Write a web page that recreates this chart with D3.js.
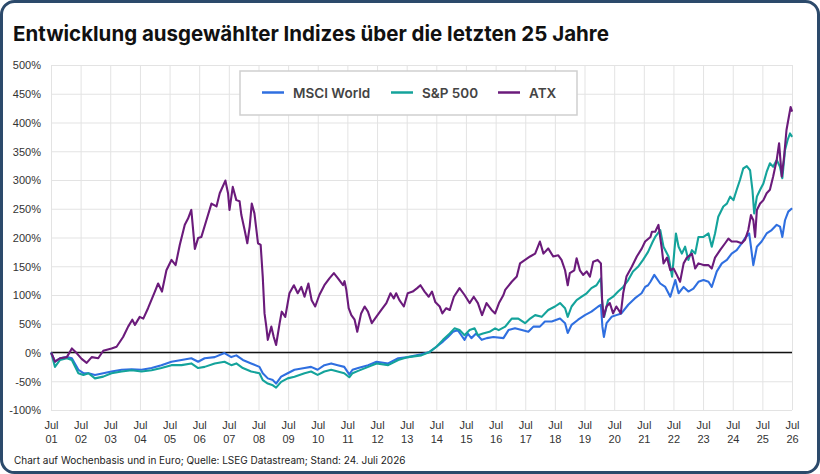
<!DOCTYPE html>
<html>
<head>
<meta charset="utf-8">
<script src="https://cdn.jsdelivr.net/npm/d3@7"></script>
<style>
  body { margin: 0; background: #fff; }
  svg { display: block; font-family: Inter, "Noto Sans", sans-serif; }
  .grid line { stroke: #e3e3e3; stroke-width: 1; }
  .grid path { display: none; }
  .axis path, .axis line { display: none; }
  .axis text { fill: #333; font-size: 11px; }
  .line { fill: none; stroke-width: 2.1; stroke-linejoin: round; }
</style>
</head>
<body>
<svg width="820" height="474"></svg>
<script>
// Werte in % seit Jul 2001, Zeit als Dezimaljahr
const msci = [
  [2001.50, 0], [2001.63, -16], [2001.80, -10], [2002.03, -8], [2002.20, -10], [2002.42, -30],
  [2002.59, -36], [2002.76, -36], [2002.98, -39], [2003.26, -36], [2003.54, -33], [2003.88, -30],
  [2004.22, -29], [2004.55, -30], [2004.89, -27], [2005.22, -22], [2005.56, -16], [2005.90, -13],
  [2006.23, -10], [2006.46, -16], [2006.68, -10], [2007.02, -8], [2007.35, -1], [2007.58, -8],
  [2007.75, -5], [2007.97, -13], [2008.25, -19], [2008.53, -25], [2008.64, -36], [2008.81, -45],
  [2008.98, -48], [2009.09, -54], [2009.26, -42], [2009.48, -36], [2009.71, -30], [2010.05, -27],
  [2010.27, -25], [2010.49, -30], [2010.72, -22], [2010.95, -19], [2011.17, -22], [2011.39, -25],
  [2011.56, -38], [2011.67, -30], [2011.86, -27], [2012.20, -22], [2012.48, -16], [2012.87, -19],
  [2013.21, -10], [2013.54, -8], [2013.99, -3], [2014.27, 1], [2014.50, 10], [2014.72, 19],
  [2014.89, 27], [2015.06, 36], [2015.22, 39], [2015.34, 30], [2015.45, 22], [2015.56, 33],
  [2015.68, 25], [2015.84, 33], [2016.03, 22], [2016.20, 25], [2016.42, 27], [2016.76, 25],
  [2016.93, 39], [2017.15, 42], [2017.38, 39], [2017.60, 36], [2017.77, 45], [2017.99, 45],
  [2018.16, 54], [2018.39, 54], [2018.67, 59], [2018.84, 51], [2018.93, 34], [2019.06, 48],
  [2019.28, 57], [2019.51, 65], [2019.73, 71], [2019.96, 80], [2020.05, 83], [2020.10, 45],
  [2020.15, 27], [2020.24, 51], [2020.41, 62], [2020.57, 65], [2020.74, 68], [2020.97, 83],
  [2021.19, 94], [2021.42, 103], [2021.54, 114], [2021.64, 117], [2021.72, 123], [2021.85, 135],
  [2022.05, 120], [2022.22, 114], [2022.39, 97], [2022.56, 126], [2022.67, 103], [2022.84, 114],
  [2023.00, 106], [2023.17, 111], [2023.34, 123], [2023.51, 126], [2023.68, 123], [2023.79, 114],
  [2023.96, 141], [2024.13, 155], [2024.30, 161], [2024.46, 172], [2024.63, 178], [2024.80, 190],
  [2024.91, 199], [2025.05, 207], [2025.11, 184], [2025.19, 152], [2025.31, 184], [2025.47, 193],
  [2025.64, 207], [2025.81, 213], [2025.98, 222], [2026.09, 219], [2026.17, 201], [2026.26, 230],
  [2026.37, 245], [2026.50, 251]
];

const sp500 = [
  [2001.50, 0], [2001.63, -25], [2001.80, -13], [2002.03, -10], [2002.20, -13], [2002.42, -36],
  [2002.59, -39], [2002.76, -36], [2002.98, -45], [2003.26, -42], [2003.54, -36], [2003.88, -33],
  [2004.22, -31], [2004.55, -33], [2004.89, -31], [2005.22, -27], [2005.56, -22], [2005.90, -22],
  [2006.23, -19], [2006.46, -27], [2006.68, -25], [2007.02, -19], [2007.35, -16], [2007.58, -22],
  [2007.75, -19], [2007.97, -27], [2008.25, -33], [2008.53, -36], [2008.64, -48], [2008.81, -54],
  [2008.98, -57], [2009.09, -61], [2009.26, -51], [2009.48, -45], [2009.71, -42], [2010.05, -36],
  [2010.27, -33], [2010.49, -39], [2010.72, -33], [2010.95, -30], [2011.17, -33], [2011.39, -36],
  [2011.56, -43], [2011.67, -36], [2011.86, -32], [2012.20, -25], [2012.48, -19], [2012.87, -22],
  [2013.21, -13], [2013.54, -8], [2013.99, -5], [2014.27, 1], [2014.50, 10], [2014.72, 22],
  [2014.95, 33], [2015.11, 42], [2015.28, 39], [2015.45, 30], [2015.62, 39], [2015.79, 42],
  [2015.90, 30], [2016.07, 33], [2016.29, 36], [2016.48, 42], [2016.60, 39], [2016.82, 45],
  [2017.04, 59], [2017.26, 59], [2017.49, 51], [2017.66, 59], [2017.83, 65], [2018.05, 62],
  [2018.27, 74], [2018.50, 80], [2018.67, 86], [2018.84, 77], [2018.93, 62], [2019.06, 80],
  [2019.23, 91], [2019.40, 97], [2019.57, 103], [2019.73, 112], [2019.90, 117], [2020.05, 129],
  [2020.10, 80], [2020.16, 62], [2020.29, 91], [2020.46, 97], [2020.63, 106], [2020.80, 114],
  [2020.97, 126], [2021.13, 141], [2021.30, 149], [2021.47, 161], [2021.64, 175], [2021.80, 193],
  [2021.88, 201], [2022.05, 213], [2022.16, 184], [2022.33, 167], [2022.45, 132], [2022.58, 207],
  [2022.67, 184], [2022.78, 172], [2022.89, 184], [2023.00, 161], [2023.12, 178], [2023.23, 172],
  [2023.34, 201], [2023.51, 201], [2023.68, 207], [2023.79, 184], [2023.90, 207], [2024.01, 236],
  [2024.18, 254], [2024.30, 259], [2024.41, 271], [2024.52, 265], [2024.63, 283], [2024.74, 300],
  [2024.85, 320], [2024.97, 324], [2025.08, 317], [2025.16, 283], [2025.22, 242], [2025.31, 271],
  [2025.42, 283], [2025.53, 294], [2025.64, 314], [2025.75, 329], [2025.86, 323], [2025.98, 335],
  [2026.09, 323], [2026.17, 303], [2026.26, 352], [2026.35, 370], [2026.43, 381], [2026.50, 375]
];

const atx = [
  [2001.50, 0], [2001.63, -16], [2001.80, -10], [2002.03, -8], [2002.20, 7], [2002.36, -1],
  [2002.53, -11], [2002.70, -18], [2002.87, -8], [2003.09, -10], [2003.26, 3], [2003.54, 7],
  [2003.71, 10], [2003.93, 27], [2004.10, 45], [2004.24, 57], [2004.33, 48], [2004.49, 62],
  [2004.61, 59], [2004.77, 77], [2005.00, 106], [2005.11, 120], [2005.24, 106], [2005.39, 143],
  [2005.56, 161], [2005.70, 152], [2005.84, 187], [2006.01, 222], [2006.12, 233], [2006.23, 248],
  [2006.35, 180], [2006.46, 199], [2006.57, 201], [2006.74, 230], [2006.91, 259], [2007.08, 254],
  [2007.19, 277], [2007.38, 299], [2007.47, 277], [2007.52, 248], [2007.63, 288], [2007.75, 265],
  [2007.86, 263], [2007.92, 239], [2008.03, 213], [2008.12, 190], [2008.20, 219], [2008.27, 259],
  [2008.36, 242], [2008.48, 190], [2008.57, 187], [2008.64, 132], [2008.70, 68], [2008.76, 45],
  [2008.81, 22], [2008.93, 45], [2009.01, 27], [2009.09, 13], [2009.21, 51], [2009.28, 71],
  [2009.40, 62], [2009.54, 103], [2009.69, 117], [2009.82, 103], [2009.94, 114], [2010.05, 97],
  [2010.18, 120], [2010.29, 91], [2010.41, 80], [2010.55, 100], [2010.72, 117], [2010.89, 129],
  [2011.04, 138], [2011.18, 129], [2011.35, 117], [2011.40, 124], [2011.46, 109], [2011.54, 77],
  [2011.63, 65], [2011.74, 57], [2011.83, 36], [2011.96, 68], [2012.08, 80], [2012.19, 71],
  [2012.32, 51], [2012.47, 62], [2012.64, 74], [2012.81, 86], [2012.95, 103], [2013.06, 94],
  [2013.14, 103], [2013.25, 91], [2013.40, 80], [2013.53, 103], [2013.70, 106], [2013.85, 112],
  [2013.96, 117], [2014.10, 106], [2014.24, 97], [2014.35, 106], [2014.46, 88], [2014.61, 80],
  [2014.70, 68], [2014.83, 77], [2014.95, 74], [2015.09, 97], [2015.28, 112], [2015.45, 100],
  [2015.62, 86], [2015.76, 97], [2015.90, 86], [2016.04, 65], [2016.19, 86], [2016.36, 74],
  [2016.48, 68], [2016.61, 86], [2016.76, 100], [2016.82, 109], [2017.04, 123], [2017.21, 132],
  [2017.32, 155], [2017.49, 161], [2017.66, 167], [2017.83, 172], [2017.99, 193], [2018.11, 172],
  [2018.27, 181], [2018.44, 167], [2018.61, 169], [2018.72, 161], [2018.84, 143], [2018.93, 117],
  [2019.00, 138], [2019.15, 143], [2019.23, 164], [2019.34, 143], [2019.45, 135], [2019.57, 141],
  [2019.68, 132], [2019.79, 158], [2019.94, 161], [2020.05, 155], [2020.09, 91], [2020.14, 62],
  [2020.24, 80], [2020.35, 86], [2020.46, 68], [2020.57, 80], [2020.72, 68], [2020.80, 103],
  [2020.91, 132], [2021.09, 149], [2021.26, 167], [2021.43, 181], [2021.54, 193], [2021.72, 201],
  [2021.77, 210], [2021.88, 210], [2021.99, 222], [2022.11, 178], [2022.16, 155], [2022.28, 165],
  [2022.39, 143], [2022.50, 146], [2022.61, 135], [2022.72, 123], [2022.84, 155], [2022.95, 165],
  [2023.12, 172], [2023.23, 146], [2023.34, 155], [2023.51, 152], [2023.68, 152], [2023.79, 146],
  [2023.90, 165], [2024.07, 178], [2024.24, 190], [2024.35, 198], [2024.46, 193], [2024.63, 193],
  [2024.80, 190], [2024.91, 196], [2025.02, 213], [2025.11, 239], [2025.19, 230], [2025.25, 201],
  [2025.31, 248], [2025.42, 259], [2025.53, 265], [2025.64, 277], [2025.75, 283], [2025.86, 306],
  [2025.98, 335], [2026.06, 364], [2026.15, 306], [2026.23, 341], [2026.31, 387], [2026.39, 410],
  [2026.45, 427], [2026.50, 419]
];

const seriesNames = ["MSCI World", "S&P 500", "ATX"];
const seriesColors = ["#2f6fe0", "#14a39b", "#6b1b7b"];
const tickYears = d3.range(2001, 2027);
const yTicks = d3.range(-100, 501, 50);

const toDate = t => {
  const y = Math.floor(t);
  const s = new Date(y, 0, 1), e = new Date(y + 1, 0, 1);
  return new Date(+s + (t - y) * (e - s));
};

const svg = d3.select("svg");
const W = 820, H = 474;

// Rahmen
svg.append("rect")
  .attr("x", 1.5).attr("y", 1.5)
  .attr("width", W - 3).attr("height", H - 3)
  .attr("rx", 13)
  .attr("fill", "#fff")
  .attr("stroke", "#2c4a6b")
  .attr("stroke-width", 3);

svg.append("text")
  .attr("x", 13).attr("y", 41)
  .attr("font-size", "20.5px")
  .attr("font-weight", 700)
  .attr("fill", "#111")
  .text("Entwicklung ausgewählter Indizes über die letzten 25 Jahre");

const margin = { left: 51, right: 28, top: 65, bottom: 64 };
const x = d3.scaleTime()
  .domain([new Date(2001, 6, 1), new Date(2026, 6, 1)])
  .range([margin.left, W - margin.right]);
const y = d3.scaleLinear()
  .domain([-100, 500])
  .range([H - margin.bottom, margin.top]);

// Gitter
svg.append("g")
  .attr("class", "grid")
  .attr("transform", `translate(0,${margin.top})`)
  .call(d3.axisBottom(x)
    .tickValues(tickYears.map(yr => new Date(yr, 6, 1)))
    .tickSize(y(-100) - margin.top)
    .tickFormat(""));

svg.append("g")
  .attr("class", "grid")
  .attr("transform", `translate(${margin.left},0)`)
  .call(d3.axisRight(y)
    .tickValues(yTicks)
    .tickSize(x.range()[1] - margin.left)
    .tickFormat(""));

// Achsen
svg.append("g")
  .attr("class", "axis")
  .attr("transform", `translate(${margin.left - 10},0)`)
  .call(d3.axisLeft(y).tickValues(yTicks).tickSize(0).tickFormat(d => d + "%"))
  .selectAll("text").attr("x", 0).attr("dy", "0.35em");

const xAxis = svg.append("g")
  .attr("class", "axis")
  .attr("transform", `translate(0,${y(-100) + 8})`)
  .call(d3.axisBottom(x)
    .tickValues(tickYears.map(yr => new Date(yr, 6, 1)))
    .tickSize(0)
    .tickFormat(""));

xAxis.selectAll(".tick text").each(function(d) {
  const t = d3.select(this);
  t.append("tspan").attr("x", 0).attr("dy", "0.71em").text("Jul");
  t.append("tspan").attr("x", 0).attr("dy", "1.3em").text(d3.timeFormat("%y")(d));
});

// Nulllinie
svg.append("line")
  .attr("x1", x.range()[0]).attr("x2", x.range()[1])
  .attr("y1", y(0)).attr("y2", y(0))
  .attr("stroke", "#111").attr("stroke-width", 1.5);

const line = d3.line()
  .x(d => x(toDate(d[0])))
  .y(d => y(d[1]));

[msci, sp500, atx].forEach((s, i) => {
  svg.append("path")
    .datum(s)
    .attr("class", "line")
    .attr("stroke", seriesColors[i])
    .attr("d", line);
});

// Legende
const legend = svg.append("g").attr("transform", "translate(240,71)");
legend.append("rect")
  .attr("width", 337).attr("height", 44)
  .attr("fill", "#fff")
  .attr("stroke", "#cfcfcf")
  .attr("stroke-width", 1.5);

const legendX = [22, 151, 258];
seriesNames.forEach((name, i) => {
  legend.append("line")
    .attr("x1", legendX[i]).attr("x2", legendX[i] + 22)
    .attr("y1", 21.5).attr("y2", 21.5)
    .attr("stroke", seriesColors[i]).attr("stroke-width", 2.5);
  legend.append("text")
    .attr("x", legendX[i] + 31).attr("y", 26.5)
    .attr("font-size", "13.5px")
    .attr("font-weight", 600)
    .attr("fill", "#444")
    .text(name);
});

svg.append("text")
  .attr("x", 14).attr("y", 464)
  .attr("font-size", "10px")
  .attr("fill", "#222")
  .text("Chart auf Wochenbasis und in Euro; Quelle: LSEG Datastream; Stand: 24. Juli 2026");
</script>
</body>
</html>
